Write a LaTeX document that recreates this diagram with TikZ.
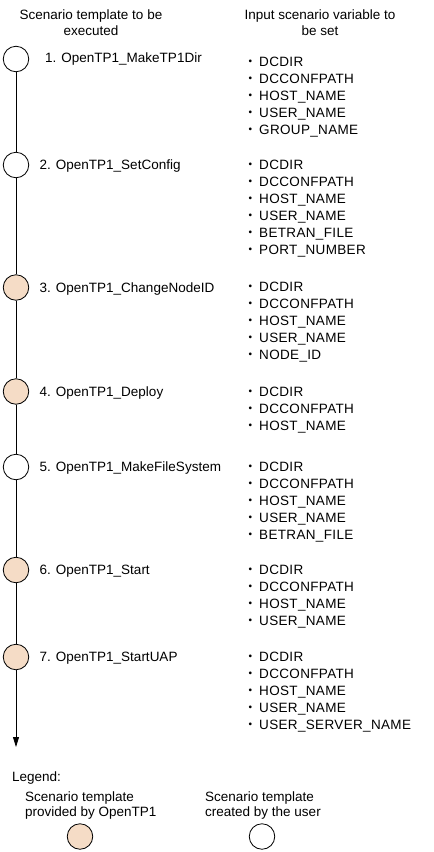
\documentclass[tikz,border=0pt]{standalone}
\usepackage{fontspec}
\setmainfont{Liberation Sans}
\newfontfamily\cjk{Noto Sans CJK JP}
\newfontfamily\capsfont{Liberation Sans}[LetterSpace=2.5]
\usetikzlibrary{arrows.meta}
\definecolor{peach}{RGB}{245,220,198}
\begin{document}
\begin{tikzpicture}[x=1pt,y=-1pt,
  txt/.style={font=\fontsize{13.5}{16}\selectfont, inner sep=0pt, anchor=base west},
  hdr/.style={font=\fontsize{13.5}{16}\selectfont, inner sep=0pt, anchor=base},
  stepcirc/.style={circle, draw=black, line width=0.8pt, minimum size=25.5pt, inner sep=0pt},
  ours/.style={stepcirc, fill=peach},
  theirs/.style={stepcirc, fill=white},
  flow/.style={draw=black, line width=0.8pt}]
\useasboundingbox (0,0) rectangle (434,852);
\fill[white] (0,0) rectangle (434,852);

% headers
\node[hdr] (h1a) at (91,15+4.8) {Scenario template to be};
\node[hdr] (h1b) at (91,31+4.8) {executed};
\node[hdr] (h2a) at (320,15+4.8) {Input scenario variable to};
\node[hdr] (h2b) at (320,31+4.8) {be set};

% circles
\node[theirs] (c1) at (16,59) {};
\node[theirs] (c2) at (16,165) {};
\node[ours]   (c3) at (16,287.5) {};
\node[ours]   (c4) at (16,391.5) {};
\node[theirs] (c5) at (16,467) {};
\node[ours]   (c6) at (16,570) {};
\node[ours]   (c7) at (16,657) {};
\coordinate (tip) at (16,747);

\draw[flow] (c1) -- (c2);
\draw[flow] (c2) -- (c3);
\draw[flow] (c3) -- (c4);
\draw[flow] (c4) -- (c5);
\draw[flow] (c5) -- (c6);
\draw[flow] (c6) -- (c7);
\draw[flow, -{Triangle[length=10pt,width=6pt]}] (c7) -- (tip);

% step labels
\node[txt] (s1) at (45,58+4.8) {1. OpenTP1\_MakeTP1Dir};
\node[txt] (s2) at (39.5,165+4.8) {2. OpenTP1\_SetConfig};
\node[txt] (s3) at (39.5,287.5+4.8) {3. OpenTP1\_ChangeNodeID};
\node[txt] (s4) at (39.5,391.5+4.8) {4. OpenTP1\_Deploy};
\node[txt] (s5) at (39.5,467+4.8) {5. OpenTP1\_MakeFileSystem};
\node[txt] (s6) at (39.5,570+4.8) {6. OpenTP1\_Start};
\node[txt] (s7) at (39.5,657+4.8) {7. OpenTP1\_StartUAP};

% variable lists
\newcommand\varlist[3]{%
  \foreach \v [count=\i from 0] in {#3} {
    \node[txt] (#1-\i) at (243.5,#2+4.8+17*\i) {{\cjk ・}\hspace{2pt}{\capsfont\v}};
  }}
\varlist{v1}{61.5}{DCDIR,DCCONFPATH,HOST\_NAME,USER\_NAME,GROUP\_NAME}
\varlist{v2}{165}{DCDIR,DCCONFPATH,HOST\_NAME,USER\_NAME,BETRAN\_FILE,PORT\_NUMBER}
\varlist{v3}{287}{DCDIR,DCCONFPATH,HOST\_NAME,USER\_NAME,NODE\_ID}
\varlist{v4}{391.5}{DCDIR,DCCONFPATH,HOST\_NAME}
\varlist{v5}{467}{DCDIR,DCCONFPATH,HOST\_NAME,USER\_NAME,BETRAN\_FILE}
\varlist{v6}{570}{DCDIR,DCCONFPATH,HOST\_NAME,USER\_NAME}
\varlist{v7}{657}{DCDIR,DCCONFPATH,HOST\_NAME,USER\_NAME,USER\_SERVER\_NAME}

% legend
\node[txt] (lg) at (12,777+4.8) {Legend:};
\node[txt] (l1a) at (25,797+4.8) {Scenario template};
\node[txt] (l1b) at (25,812+4.8) {provided by OpenTP1};
\node[txt] (l2a) at (205,797+4.8) {Scenario template};
\node[txt] (l2b) at (205,812+4.8) {created by the user};
\node[ours]   (lc1) at (80,836.5) {};
\node[theirs] (lc2) at (262,836.5) {};
\end{tikzpicture}
\end{document}
